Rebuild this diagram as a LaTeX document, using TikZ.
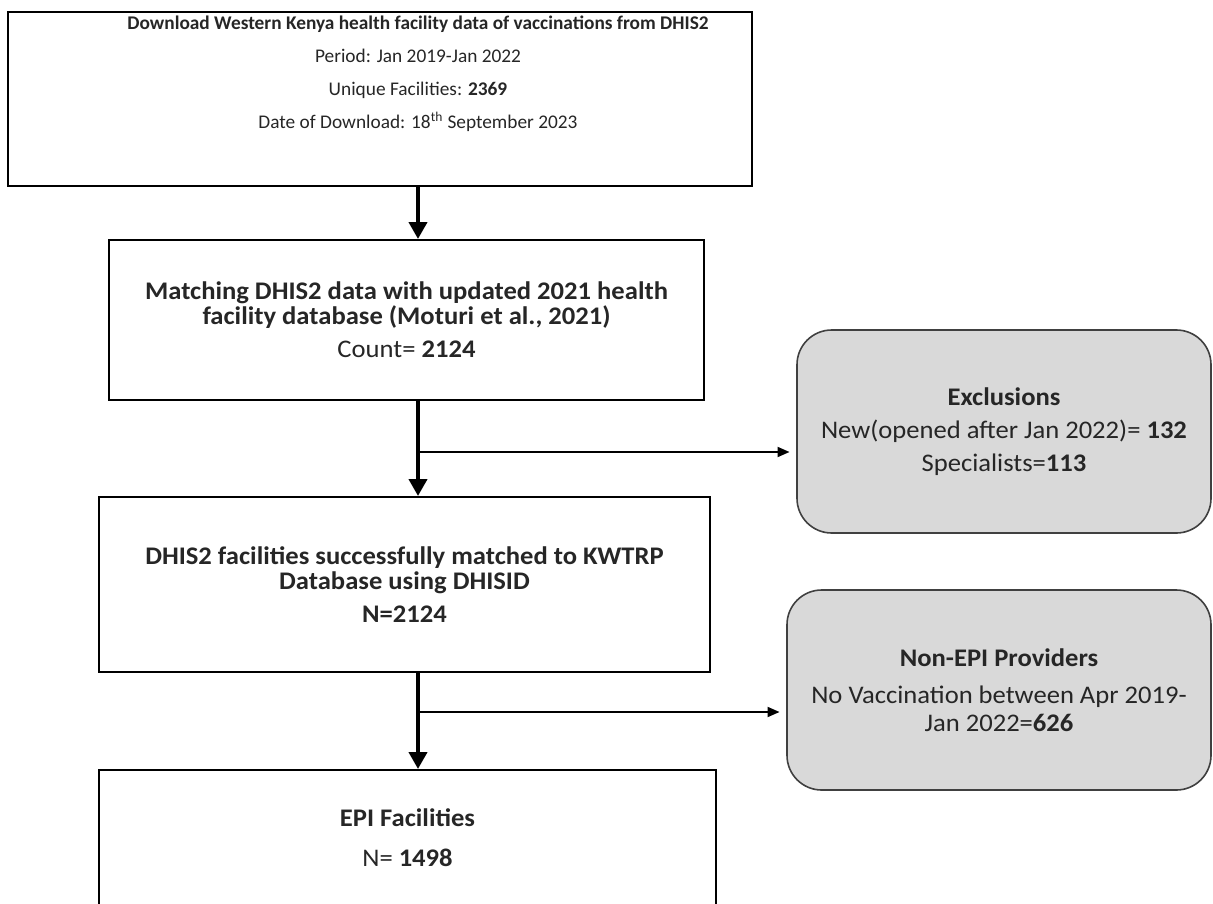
\documentclass[tikz,border=0pt]{standalone}
\usepackage{fontspec}
\setmainfont{Carlito}
\newfontfamily\widefont[FakeStretch=1.05]{Carlito}
\usetikzlibrary{arrows.meta}

\definecolor{boxgrey}{HTML}{D9D9D9}

\begin{document}
\begin{tikzpicture}[x=0.75pt, y=-0.75pt,
    stepline/.style={line width=3pt, -{Triangle[width=13.5pt, length=12.75pt]}},
    sideline/.style={line width=1.4pt, -{Triangle[width=7.5pt, length=9pt]}, shorten >=5pt},
    mainbox/.style={draw, line width=1.5pt, rectangle, inner sep=0pt},
    greybox/.style={draw=black!75, fill=boxgrey, line width=1.2pt, rounded corners=26pt, inner sep=0pt},
    boxtext/.style={align=center, text=black!85, font=\widefont\fontsize{19}{18.75}\selectfont}]

    \useasboundingbox (0,0) rectangle (1213,903);

    % Download box
    \node[mainbox, minimum width=558pt, minimum height=130.5pt] (download) at (380,99) {};
    \node[boxtext, font=\fontsize{14.5}{18.75}\selectfont] (downloadtext) at (418,74)
        {\textbf{Download Western Kenya health facility data of vaccinations from DHIS2}\\[6pt]
         Period: Jan 2019-Jan 2022\\[6pt]
         Unique Facilities: \textbf{2369}\\[6pt]
         Date of Download: 18\textsuperscript{th} September 2023};

    % Main flow
    \node[mainbox, boxtext, minimum width=446.25pt, minimum height=120pt] (matching) at (406.5,320)
        {\textbf{Matching DHIS2 data with updated 2021 health}\\
         \textbf{facility database (Moturi et al., 2021)}\\[6pt]
         Count= \textbf{2124}};
    \node[mainbox, boxtext, minimum width=458.25pt, minimum height=131.25pt] (matched) at (404.5,584.5)
        {\textbf{DHIS2 facilities successfully matched to KWTRP}\\
         \textbf{Database using DHISID}\\[6pt]
         \textbf{N=2124}};
    \node[mainbox, boxtext, minimum width=462.75pt, minimum height=102pt] (epi) at (407.5,838)
        {\textbf{EPI Facilities}\\[11pt]
         N= \textbf{1498}};

    % Side boxes
    \node[greybox, boxtext, minimum width=310.5pt, minimum height=152.25pt] (excl) at (1004,431.5)
        {\textbf{Exclusions}\\[6pt]
         New(opened after Jan 2022)= \textbf{132}\\[6pt]
         Specialists=\textbf{113}};
    \node[greybox, boxtext, minimum width=318pt, minimum height=150pt] (nonepi) at (999,690)
        {\textbf{Non-EPI Providers}\\[9pt]
         No Vaccination between Apr 2019-\\[2pt]
         Jan 2022=\textbf{626}};

    % Arrows
    \coordinate (split1) at (418,452);
    \coordinate (split2) at (418,712);
    \draw[stepline] (download.south -| downloadtext) -- (matching.north -| downloadtext);
    \draw[stepline] (matching.south -| split1) -- (matched.north -| split1);
    \draw[stepline] (matched.south -| split2) -- (epi.north -| split2);
    \draw[sideline] (split1) -- (split1 -| excl.west);
    \draw[sideline] (split2) -- (split2 -| nonepi.west);

\end{tikzpicture}
\end{document}
